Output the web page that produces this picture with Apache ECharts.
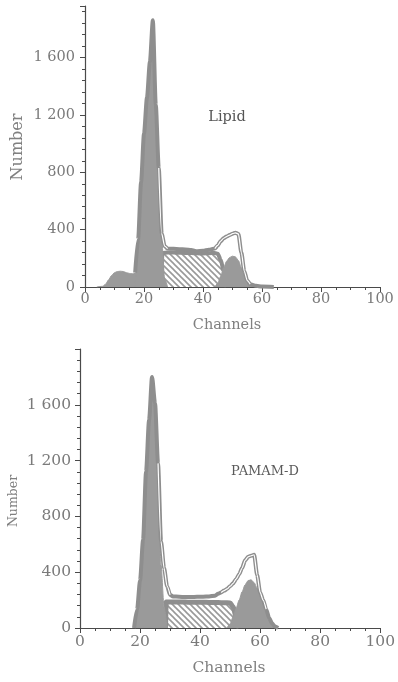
<!DOCTYPE html>
<html><head><meta charset="utf-8">
<script src="https://cdn.jsdelivr.net/npm/echarts@6/dist/echarts.min.js"></script>
<style>html,body{margin:0;padding:0;background:#fff}#c{width:398px;height:682px}</style>
</head><body><div id="c"></div>
<script>
// ---------- tick labels ----------
const yTickValues = [0, 400, 800, 1200, 1600];
const yTickLabels = ['0', '400', '800', '1 200', '1 600'];
const xTickValues = [0, 20, 40, 60, 80, 100];
const xTickLabels = ['0', '20', '40', '60', '80', '100'];
const panelNames = ['Lipid', 'PAMAM-D'];

// ---------- Lipid panel ----------
const lipidDebrisCh  = [4, 6, 7, 8, 9, 10, 11, 12, 13, 14, 15, 16, 17, 18, 19, 20];
const lipidDebrisVal = [0, 5, 20, 50, 80, 100, 108, 110, 108, 100, 95, 92, 95, 90, 50, 0];
const lipidG1Ch  = [17, 18, 19, 20, 21, 22, 23, 24, 25, 26, 27, 28];
const lipidG1Val = [0, 320, 720, 1060, 1310, 1560, 1850, 1260, 820, 330, 60, 0];
const lipidSCh  = [26, 26.2, 28, 30, 32, 34, 36, 38, 40, 42, 44, 45, 46, 47, 48];
const lipidSVal = [0, 237, 240, 240, 239, 238, 237, 235, 234, 236, 238, 232, 190, 110, 0];
const lipidG2Ch  = [44, 45, 46, 47, 48, 49, 50, 51, 52, 53, 54, 55, 56, 57, 58];
const lipidG2Val = [0, 25, 75, 135, 180, 205, 215, 210, 185, 135, 85, 45, 18, 6, 0];
const lipidEnvCh  = [17, 18, 19, 20, 21, 22, 23, 24, 25, 26, 27, 28, 30, 32, 34, 36, 38, 40, 42, 44, 45, 46, 47, 48, 49, 50, 51, 52, 53, 54, 55, 56, 58, 60, 64];
const lipidEnvVal = [100, 330, 730, 1070, 1320, 1570, 1860, 1270, 830, 372, 285, 268, 266, 264, 262, 258, 250, 252, 260, 268, 290, 320, 340, 352, 362, 372, 378, 370, 240, 110, 45, 20, 8, 3, 0];

// ---------- PAMAM-D panel ----------
const pamamG1Ch  = [18, 19, 20, 21, 22, 23, 24, 25, 26, 27, 28, 29];
const pamamG1Val = [0, 120, 330, 620, 1110, 1480, 1790, 1600, 1150, 450, 150, 0];
const pamamSCh  = [28.5, 28.7, 30, 32, 34, 36, 38, 40, 42, 44, 46, 48, 50, 51, 52, 53];
const pamamSVal = [0, 186, 187, 187, 186, 185, 185, 184, 184, 183, 182, 181, 180, 150, 80, 0];
const pamamG2Ch  = [49, 50, 51, 52, 53, 54, 55, 56, 57, 58, 59, 60, 61, 62, 63, 64, 65, 66];
const pamamG2Val = [0, 30, 80, 140, 200, 260, 310, 340, 345, 325, 285, 245, 195, 130, 70, 30, 8, 0];
const pamamEnvCh  = [18, 19, 20, 21, 22, 23, 24, 25, 26, 27, 28, 29, 30, 31, 33, 35, 37, 39, 41, 43, 45, 46, 47, 48, 49, 50, 51, 52, 53, 54, 55, 56, 57, 58, 59, 60, 61, 62, 63, 64, 65, 66];
const pamamEnvVal = [0, 130, 340, 630, 1120, 1490, 1800, 1610, 1180, 620, 430, 300, 238, 226, 224, 222, 222, 224, 224, 226, 232, 245, 255, 268, 280, 300, 320, 350, 385, 430, 485, 510, 518, 525, 380, 255, 200, 135, 72, 32, 10, 0];

// channel ranges where the envelope is drawn hollow
const lipidHollow = [[25, 28], [44, 56]];
const pamamHollow = [[26, 30], [47, 62]];

// ---------- helpers ----------
const GRAY = '#9a9a9a';
const EDGE = '#8e8e8e';
const AX = '#4a4a4a';
const FONT = '"DejaVu Serif", serif';

function pairs(ch, val) { return ch.map((c, i) => [c, val[i]]); }
function subset(ch, val, r) {
  const out = [];
  ch.forEach((c, i) => { if (c >= r[0] && c <= r[1]) out.push([c, val[i]]); });
  return out;
}

const HS = 6;
const hatch = document.createElement('canvas');
hatch.width = HS; hatch.height = HS;
(function () {
  const g = hatch.getContext('2d');
  g.fillStyle = '#ffffff'; g.fillRect(0, 0, HS, HS);
  g.strokeStyle = '#999999'; g.lineWidth = 1.6;
  [-HS, 0, HS].forEach(k => { g.beginPath(); g.moveTo(k - 1, -1); g.lineTo(k + HS + 1, HS + 1); g.stroke(); });
})();

function area(gi, data, color, z, lineW, lineC) {
  return {
    type: 'line', xAxisIndex: gi, yAxisIndex: gi, data: data,
    showSymbol: false, symbol: 'none', smooth: 0.25, smoothMonotone: 'x',
    lineStyle: { color: lineC || GRAY, width: lineW || 1 },
    areaStyle: { color: color, opacity: 1 },
    z: z, silent: true, animation: false
  };
}
function line(gi, data, color, width, z) {
  return {
    type: 'line', xAxisIndex: gi, yAxisIndex: gi, data: data,
    showSymbol: false, symbol: 'none', smooth: 0.25, smoothMonotone: 'x',
    lineStyle: { color: color, width: width }, z: z, silent: true, animation: false
  };
}

function xAxisFor(gi, fs, margin) {
  return {
    gridIndex: gi, type: 'value', min: 0, max: 100, interval: 20,
    axisLine: { lineStyle: { color: AX, width: 1.2 } },
    axisTick: { length: 5, lineStyle: { color: AX } },
    minorTick: { show: true, splitNumber: 4, length: 3, lineStyle: { color: AX } },
    splitLine: { show: false }, minorSplitLine: { show: false },
    axisLabel: {
      color: '#7a7a7a', fontFamily: FONT, fontSize: fs, margin: margin,
      formatter: v => { const i = xTickValues.indexOf(v); return i >= 0 ? xTickLabels[i] : ''; }
    }
  };
}
function yAxisFor(gi, max, fs, margin) {
  return {
    gridIndex: gi, type: 'value', min: 0, max: max, interval: 400,
    axisLine: { show: true, lineStyle: { color: AX, width: 1.2 } },
    axisTick: { show: true, length: 5, lineStyle: { color: AX } },
    minorTick: { show: true, splitNumber: 5, length: 3, lineStyle: { color: AX } },
    splitLine: { show: false }, minorSplitLine: { show: false },
    axisLabel: {
      color: '#7a7a7a', fontFamily: FONT, fontSize: fs, margin: margin, showMaxLabel: false,
      formatter: v => { const i = yTickValues.indexOf(v); return i >= 0 ? yTickLabels[i] : ''; }
    }
  };
}

const series = [
  area(0, pairs(lipidDebrisCh, lipidDebrisVal), GRAY, 1),
  area(0, pairs(lipidSCh, lipidSVal), { image: hatch, repeat: 'repeat' }, 2, 4, EDGE),
  area(0, pairs(lipidG1Ch, lipidG1Val), GRAY, 3),
  area(0, pairs(lipidG2Ch, lipidG2Val), GRAY, 4),
  line(0, pairs(lipidEnvCh, lipidEnvVal), EDGE, 4, 5),
  ...lipidHollow.map(r => line(0, subset(lipidEnvCh, lipidEnvVal, r), '#ffffff', 1.2, 6)),

  area(1, pairs(pamamSCh, pamamSVal), { image: hatch, repeat: 'repeat' }, 2, 5, EDGE),
  area(1, pairs(pamamG1Ch, pamamG1Val), GRAY, 3),
  area(1, pairs(pamamG2Ch, pamamG2Val), GRAY, 4),
  line(1, pairs(pamamEnvCh, pamamEnvVal), EDGE, 4, 5),
  ...pamamHollow.map(r => line(1, subset(pamamEnvCh, pamamEnvVal, r), '#ffffff', 1.2, 6))
];

function txt(x, y, s, fs, color, rot) {
  return {
    type: 'text', x: x, y: y, rotation: rot || 0, silent: true, z: 10,
    style: { text: s, fontFamily: FONT, fontSize: fs, fill: color, align: 'center', verticalAlign: 'middle' }
  };
}

const chart = echarts.init(document.getElementById('c'), null, { renderer: 'canvas' });
chart.setOption({
  backgroundColor: '#ffffff',
  animation: false,
  grid: [
    { left: 85, right: 18, top: 6, height: 281 },
    { left: 80, right: 13, top: 349, height: 279 }
  ],
  xAxis: [xAxisFor(0, 14.5, 5), xAxisFor(1, 15.5, 6)],
  yAxis: [yAxisFor(0, 1960, 14.5, 10), yAxisFor(1, 2000, 15.5, 9)],
  series: series,
  graphic: [
    txt(227, 117, panelNames[0], 14.5, '#555555'),
    txt(265, 472, panelNames[1], 13, '#5a5a5a'),
    txt(18, 147, 'Number', 16, '#808080', Math.PI / 2),
    txt(14, 501, 'Number', 12.5, '#808080', Math.PI / 2),
    txt(227, 325, 'Channels', 14.5, '#808080'),
    txt(229, 668, 'Channels', 15.5, '#808080')
  ]
});
</script>
</body></html>
